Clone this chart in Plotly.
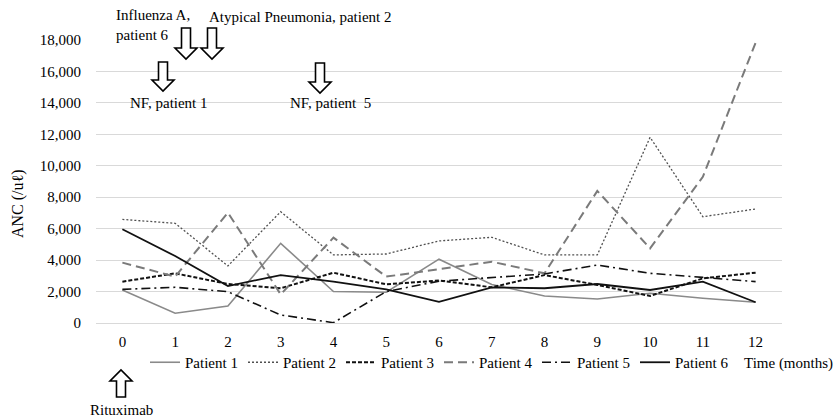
import plotly.graph_objects as go

months = [0, 1, 2, 3, 4, 5, 6, 7, 8, 9, 10, 11, 12]
month_labels = [str(m) for m in months]

patient1 = [2100, 620, 1080, 5070, 2000, 1960, 4060, 2450, 1720, 1530, 1890, 1570, 1320]
patient2 = [6590, 6340, 3630, 7080, 4330, 4390, 5220, 5450, 4330, 4330, 11810, 6760, 7250]
patient3 = [2630, 3160, 2480, 2210, 3200, 2460, 2700, 2270, 3050, 2420, 1720, 2840, 3200]
patient4 = [3840, 2950, 7020, 1820, 5430, 2950, 3420, 3900, 3160, 8400, 4750, 9300, 17830]
patient5 = [2140, 2270, 1990, 510, 20, 2000, 2660, 2900, 3120, 3690, 3160, 2900, 2630]
patient6 = [5960, 4260, 2350, 3050, 2630, 2140, 1340, 2270, 2210, 2480, 2100, 2630, 1320]

series = [
    ("Patient 1", patient1, dict(color="#8a8a8a", width=1.6, dash="solid")),
    ("Patient 2", patient2, dict(color="#505050", width=1.3, dash="2px,2px")),
    ("Patient 3", patient3, dict(color="#111111", width=2, dash="4px,2px")),
    ("Patient 4", patient4, dict(color="#7a7a7a", width=2, dash="9px,5px")),
    ("Patient 5", patient5, dict(color="#111111", width=1.6, dash="9px,4px,2px,4px")),
    ("Patient 6", patient6, dict(color="#111111", width=1.8, dash="solid")),
]

FONT = "Liberation Serif, Times New Roman, serif"
W, H = 836, 420
L, R, T, B = 96, 54, 40, 97
PW, PH = W - L - R, H - T - B


def px(x):
    return (x - L) / PW


def py(y):
    return (H - B - y) / PH


fig = go.Figure()
for name, vals, line in series:
    fig.add_trace(go.Scatter(x=month_labels, y=vals, name=name, mode="lines", line=line))


def arrow_path(cx, top, bottom, up=False):
    hw, sw, hh = 11, 4.5, 11
    if not up:
        pts = [(cx - sw, top), (cx + sw, top), (cx + sw, bottom - hh), (cx + hw, bottom - hh),
               (cx, bottom), (cx - hw, bottom - hh), (cx - sw, bottom - hh)]
    else:
        pts = [(cx - sw, bottom), (cx + sw, bottom), (cx + sw, top + hh), (cx + hw, top + hh),
               (cx, top), (cx - hw, top + hh), (cx - sw, top + hh)]
    return "M" + " L".join(f"{px(a):.5f},{py(b):.5f}" for a, b in pts) + " Z"


arrows = [(186, 28, 59, False), (212, 28, 59, False), (163, 62, 91, False),
          (320, 63, 93, False), (121, 370, 397, True)]
shapes = [dict(type="path", xref="paper", yref="paper", path=arrow_path(*a),
               line=dict(color="black", width=1.6), fillcolor="white", layer="above")
          for a in arrows]

texts = [
    ("Influenza A,<br>patient 6", 114, 25, "left"),
    ("Atypical Pneumonia, patient 2", 207, 17, "left"),
    ("NF, patient 1", 128, 103, "left"),
    ("NF, patient\u00a0 5", 288, 103, "left"),
    ("Time (months)", 742, 363, "left"),
    ("Rituximab", 121, 410, "center"),
]
annotations = [dict(text=t, x=px(x), y=py(y), xref="paper", yref="paper", xanchor=a,
                    yanchor="middle", showarrow=False, align="left",
                    font=dict(family=FONT, size=15, color="black"))
               for t, x, y, a in texts]
annotations.append(dict(text="ANC (/u\u2113)", x=px(18), y=py(204), xref="paper", yref="paper",
                        xanchor="center", yanchor="middle", showarrow=False, textangle=-90,
                        font=dict(family=FONT, size=16, color="black")))

fig.update_layout(
    width=W, height=H,
    margin=dict(l=L, r=R, t=T, b=B, pad=0),
    paper_bgcolor="white", plot_bgcolor="white",
    font=dict(family=FONT, size=15, color="black"),
    showlegend=True,
    legend=dict(orientation="h", x=px(145), xanchor="left", y=py(346), yanchor="top",
                entrywidth=53, font=dict(family=FONT, size=15, color="black"),
                bgcolor="rgba(0,0,0,0)", borderwidth=0, tracegroupgap=0),
    shapes=shapes,
    annotations=annotations,
    xaxis=dict(type="category", categoryorder="array", categoryarray=month_labels,
               range=[-0.5, 12.5], showgrid=False, showline=False, zeroline=False, ticks="",
               ticklabelstandoff=8, tickfont=dict(family=FONT, size=15, color="black"),
               fixedrange=True),
    yaxis=dict(range=[0, 18000], dtick=2000, tickformat=",d", showgrid=True,
               gridcolor="#d9d9d9", gridwidth=1, zeroline=True, zerolinecolor="#d9d9d9",
               zerolinewidth=1, showline=False, ticks="", ticklabelstandoff=14,
               tickfont=dict(family=FONT, size=15, color="black"), fixedrange=True),
)

fig.write_html("out.html", config={"displayModeBar": False},
               post_script="document.body.style.margin='0px';document.body.style.overflow='hidden';")
